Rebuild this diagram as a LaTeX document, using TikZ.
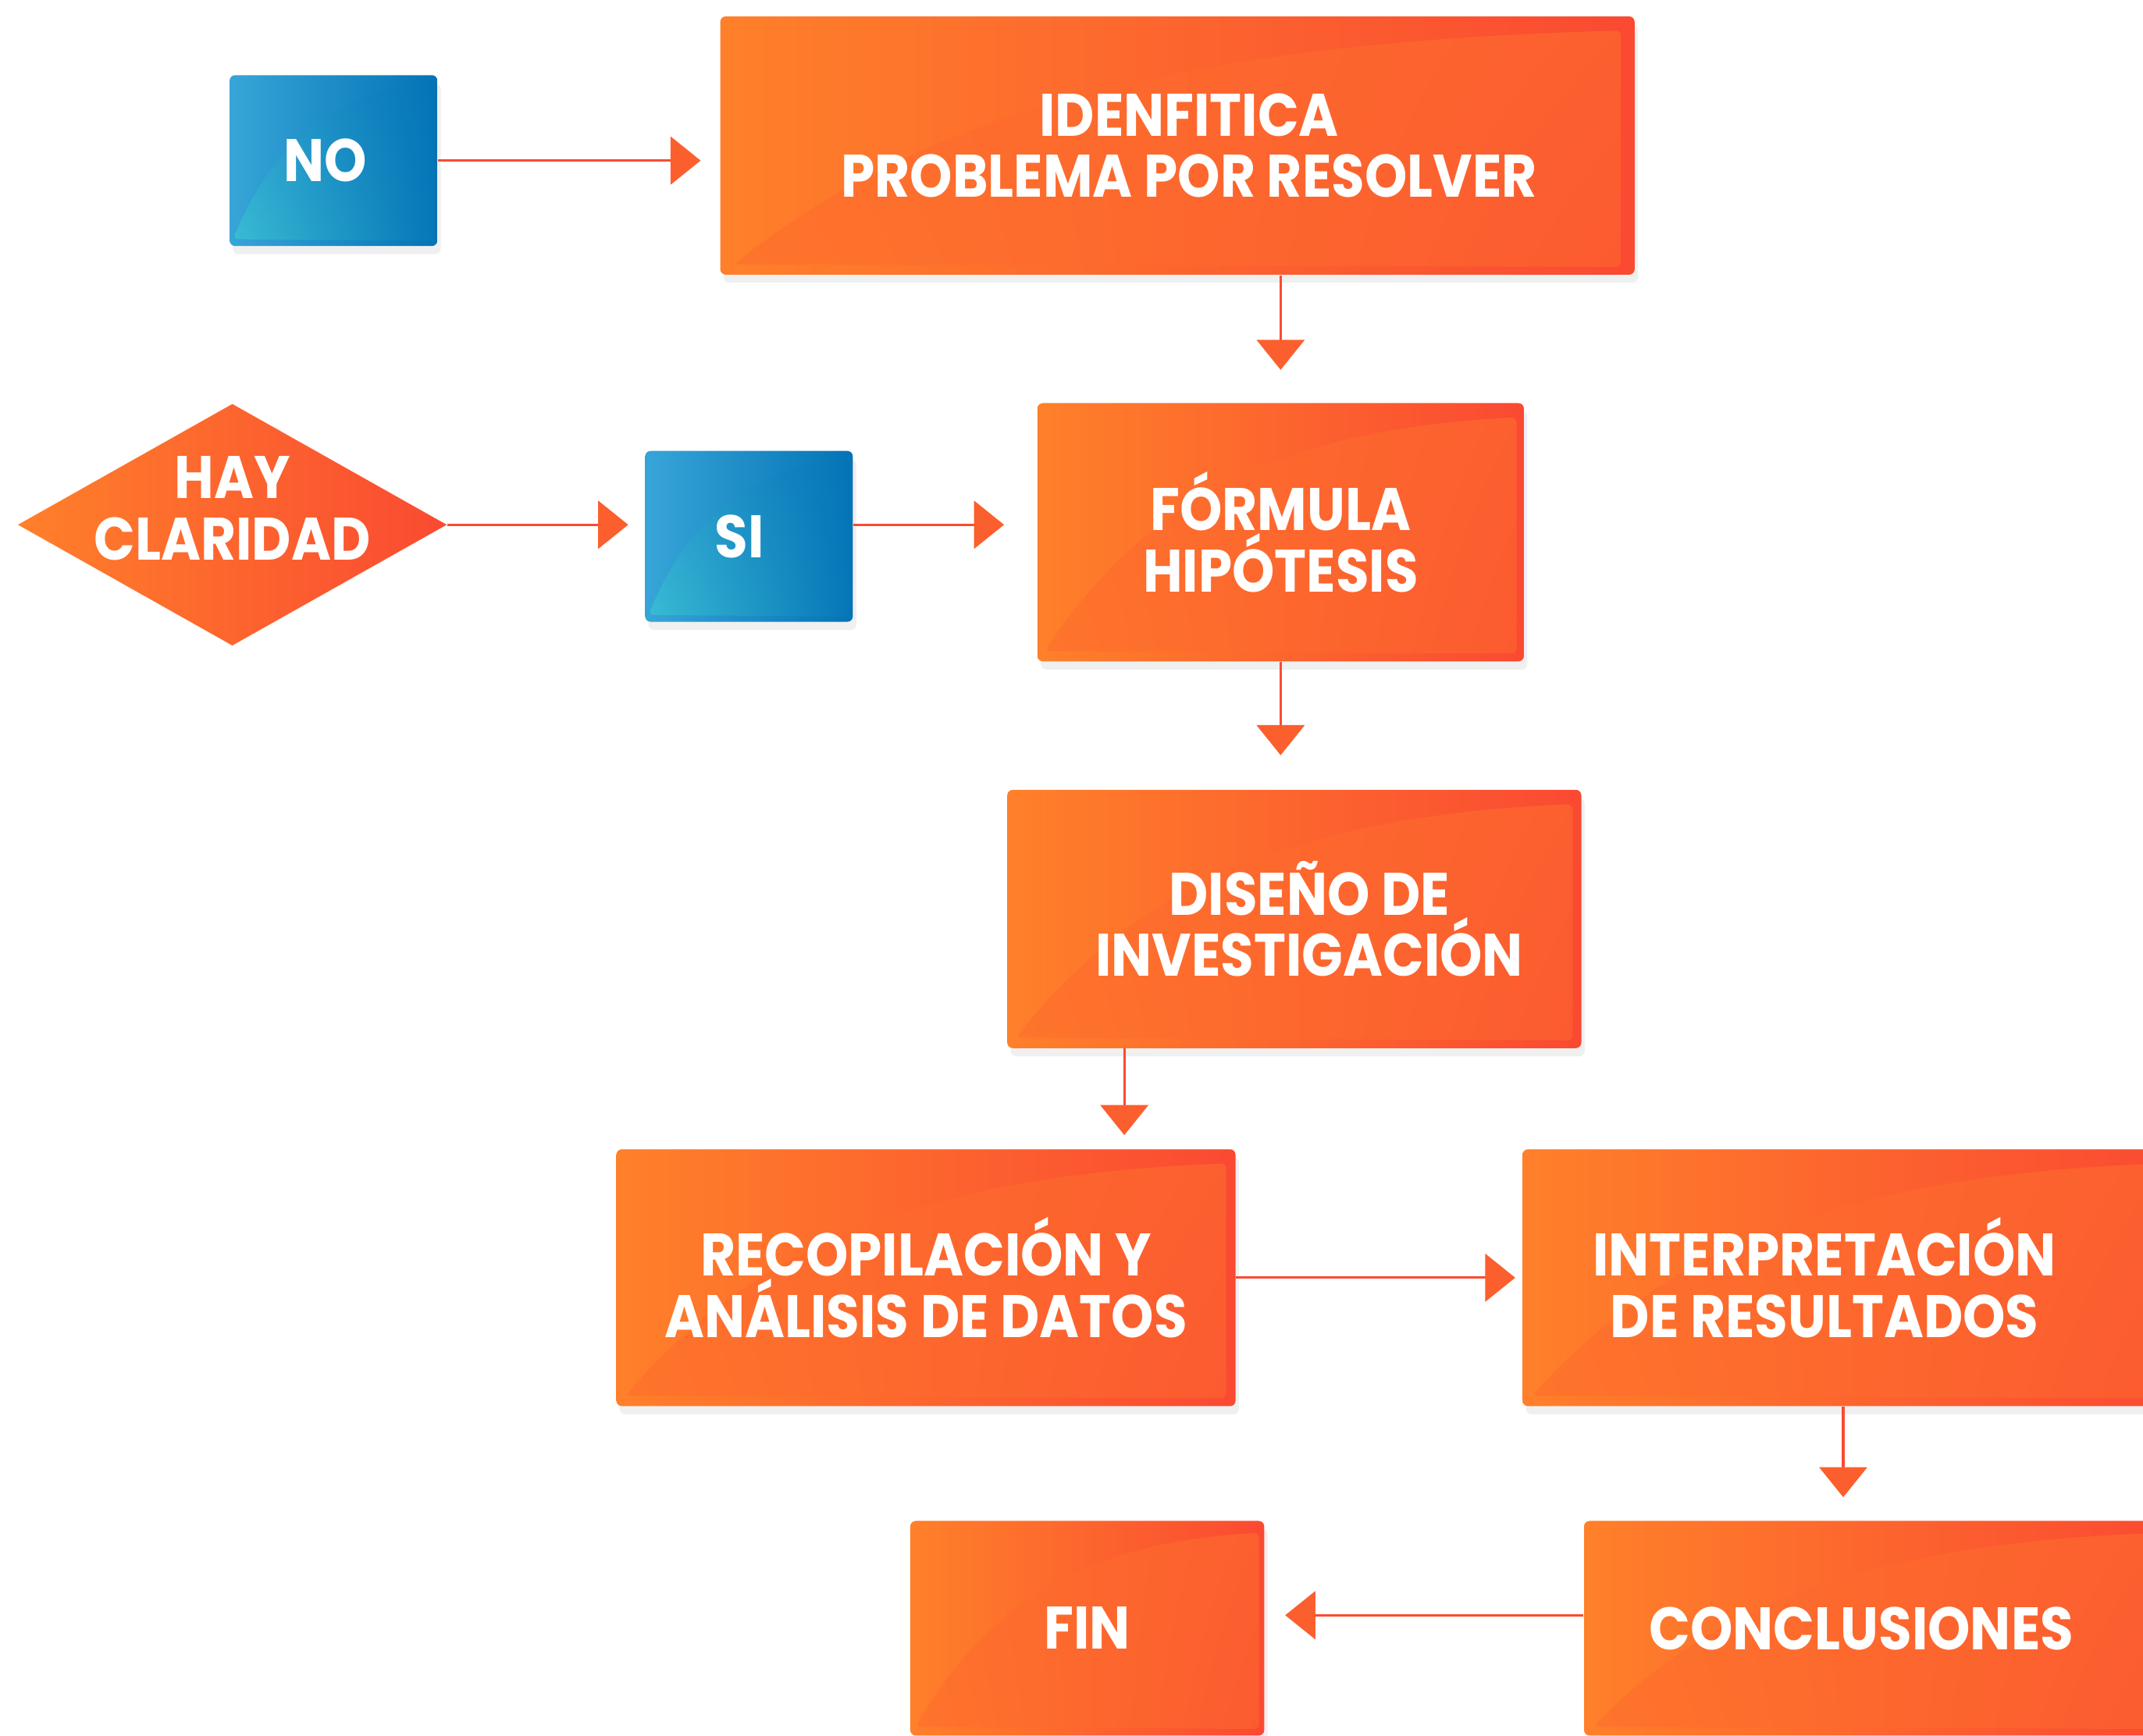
\documentclass[tikz,border=0pt]{standalone}
\usepackage{fontspec}
\setmainfont{Poppins}[FakeStretch=0.9]
\usetikzlibrary{arrows.meta,shapes.geometric,shadows,shadings,calc}

\definecolor{naranja}{RGB}{255,128,42}
\definecolor{rojo}{RGB}{250,74,50}
\definecolor{celeste}{RGB}{55,165,215}
\definecolor{azul}{RGB}{3,115,182}
\definecolor{turquesa}{RGB}{58,190,212}
\definecolor{lineroja}{RGB}{250,75,50}
\definecolor{puntaroja}{RGB}{252,95,46}

\newcommand\letrero{\bfseries\fontsize{25}{25.5}\selectfont}

\tikzset{
  % #1 upper left, #2 upper right, #3 lower left, #4 lower right (as seen)
  brillo/.style n args={4}{path picture={
    \shade[shading=bilinear interpolation, upper right=#1, lower right=#2, upper left=#3, lower left=#4]
      let \p1=(path picture bounding box.south west),
          \p2=(path picture bounding box.north east),
          \n1={\x2-\x1}, \n2={\y2-\y1} in
      ({\x1+0.015*\n1},{\y1+0.04*\n2})
      .. controls ({\x1+0.22*\n1},{\y1+0.62*\n2}) and ({\x1+0.5*\n1},{\y1+0.9*\n2})
      .. ({\x2-0.015*\n1},{\y2-0.055*\n2})
      -- ({\x2-0.015*\n1},{\y1+0.03*\n2}) -- cycle;
  }},
  caja/.style={rectangle, rounded corners=0.08cm, inner sep=0pt, align=center,
    text=white, font=\letrero,
    drop shadow={opacity=0.12, shadow xshift=0.05cm, shadow yshift=-0.12cm}},
  cajanaranja/.style={caja, left color=naranja, right color=rojo,
    brillo={naranja!70!rojo}{naranja!40!rojo}{naranja!80!rojo}{naranja!30!rojo}},
  cajaazul/.style={caja, left color=celeste, right color=azul,
    brillo={celeste!85!azul}{azul}{turquesa}{azul!95!celeste}},
  rombo/.style={diamond, inner sep=0pt, left color=naranja, right color=rojo},
  texto/.style={align=center, text=white, font=\letrero},
  flecha/.style={draw=lineroja, line width=1pt,
    -{Triangle[length=0.44cm,width=0.7cm,color=puntaroja]}},
}

\begin{document}
\begin{tikzpicture}
  \useasboundingbox (0,0) rectangle (31.36,-25.4);
  \clip (0,0) rectangle (31.36,-25.4);

  % Drawing box problema
  \node [cajanaranja, minimum width=13.38cm, minimum height=3.78cm,
    label={[texto, xshift=0.17cm]center:IDENFITICA\\PROBLEMA POR RESOLVER}] (problema) at (17.23,-2.13) {};%

  % Drawing box NO
  \node [cajaazul, minimum width=3.04cm, minimum height=2.5cm,
    label={[texto, xshift=-0.12cm]center:NO}] (no) at (4.88,-2.35) {};%

  % Drawing box hipotesis
  \node [cajanaranja, minimum width=7.12cm, minimum height=3.78cm] (hipotesis) at (18.74,-7.79) {FÓRMULA\\HIPÓTESIS};%

  % Drawing decision claridad
  \node [rombo, minimum width=6.28cm, minimum height=3.54cm,
    label={[texto, yshift=0.24cm]center:HAY\\CLARIDAD}] (claridad) at (3.4,-7.68) {};%

  % Drawing box SI
  \node [cajaazul, minimum width=3.04cm, minimum height=2.5cm,
    label={[texto, xshift=-0.14cm]center:SI}] (si) at (10.96,-7.85) {};%

  % Drawing box diseno
  \node [cajanaranja, minimum width=8.4cm, minimum height=3.78cm,
    label={[texto, xshift=0.22cm]center:DISEÑO DE\\INVESTIGACIÓN}] (diseno) at (18.94,-13.45) {};%

  % Drawing box recopilacion
  \node [cajanaranja, minimum width=9.06cm, minimum height=3.76cm] (recopilacion) at (13.55,-18.7) {RECOPILACIÓN Y\\ANÁLISIS DE DATOS};%

  % Drawing box interpretacion
  \node [cajanaranja, minimum width=9.52cm, minimum height=3.76cm,
    label={[texto, xshift=-0.34cm]center:INTERPRETACIÓN\\DE RESULTADOS}] (interpretacion) at (27.04,-18.7) {};%

  % Drawing box conclusiones
  \node [cajanaranja, minimum width=8.62cm, minimum height=3.14cm,
    label={[texto, xshift=-0.25cm]center:CONCLUSIONES}] (conclusiones) at (27.49,-23.83) {};%

  % Drawing box fin
  \node [cajanaranja, minimum width=5.18cm, minimum height=3.14cm] (fin) at (15.91,-23.83) {FIN};%

  % Marking arrow starts
  \coordinate (d) at ([xshift=1.72cm]diseno.south west);%
  \coordinate (i) at ([xshift=4.7cm]interpretacion.south west);%
  \coordinate (c) at ([yshift=0.19cm]conclusiones.west);%

  % Drawing arrows
  \draw [flecha, shorten >=0.28cm] (no.east) -- (no.east -| problema.west);%
  \draw [flecha, shorten >=0.48cm] (problema.south -| hipotesis.north) -- (hipotesis.north);%
  \draw [flecha, shorten >=0.24cm] (claridad.east) -- (claridad.east -| si.west);%
  \draw [flecha, shorten >=0.48cm] (claridad.east -| si.east) -- (claridad.east -| hipotesis.west);%
  \draw [flecha, shorten >=0.5cm] (hipotesis.south) -- (hipotesis.south |- diseno.north);%
  \draw [flecha, shorten >=0.2cm] (d) -- (d |- recopilacion.north);%
  \draw [flecha, shorten >=0.1cm] (recopilacion.east) -- (interpretacion.west);%
  \draw [flecha, shorten >=0.34cm] (i) -- (i |- conclusiones.north);%
  \draw [flecha, shorten >=0.3cm] (c) -- (c -| fin.east);%
\end{tikzpicture}
\end{document}
